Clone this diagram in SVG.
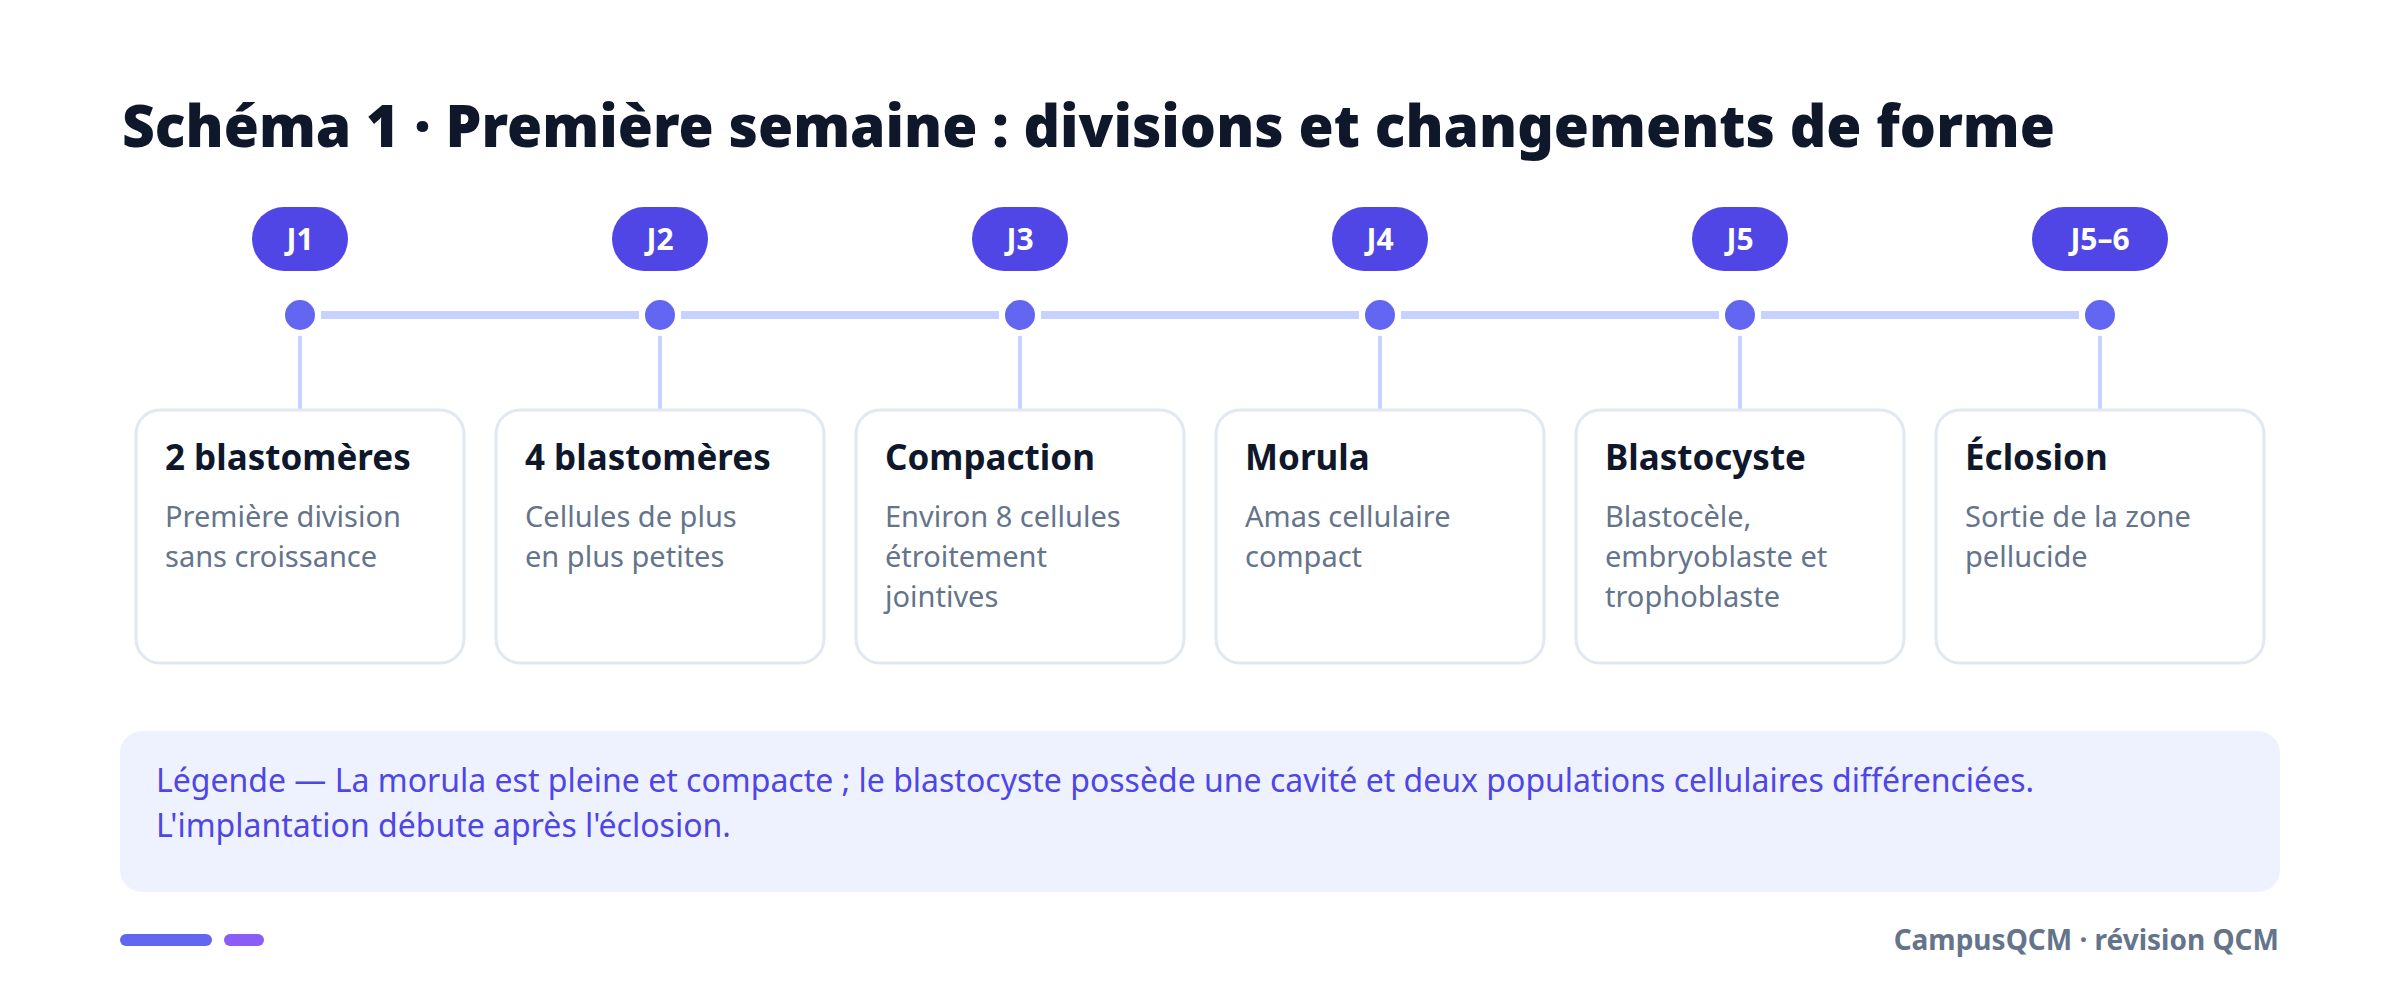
<svg xmlns="http://www.w3.org/2000/svg" width="2400" height="1001" viewBox="0 0 2400 1001">
<style>
text{font-family:"Noto Sans","Open Sans","Liberation Sans",sans-serif}
.title{font-size:58px;font-weight:900;fill:#0F172A}
.pill{fill:#4F46E5}
.pilltxt{font-size:30px;font-weight:700;fill:#FFFFFF;text-anchor:middle}
.dot{fill:#6366F1;stroke:#FFFFFF;stroke-width:6}
.rail{stroke:#C7D2FE;stroke-width:8;fill:none}
.stem{stroke:#C7D2FE;stroke-width:4;fill:none}
.card{fill:#FFFFFF;stroke:#E2E8F0;stroke-width:3}
.ctitle{font-size:35px;font-weight:700;fill:#0F172A}
.cbody{font-size:29px;fill:#64748B}
.legend{fill:#EEF2FF}
.ltxt{font-size:32px;fill:#4F46E5}
.foot{font-size:28px;font-weight:700;fill:#64748B;text-anchor:end}
</style>
<rect width="2400" height="1001" fill="#FFFFFF"/>
<text class="title" x="122" y="147" textLength="1933" lengthAdjust="spacingAndGlyphs">Schéma 1 · Première semaine : divisions et changements de forme</text>

<g id="connectors">
<line class="rail" x1="321" y1="315" x2="639" y2="315"/>
<line class="rail" x1="681" y1="315" x2="999" y2="315"/>
<line class="rail" x1="1041" y1="315" x2="1359" y2="315"/>
<line class="rail" x1="1401" y1="315" x2="1719" y2="315"/>
<line class="rail" x1="1761" y1="315" x2="2079" y2="315"/>
<line class="stem" x1="300" y1="333" x2="300" y2="410"/>
<line class="stem" x1="660" y1="333" x2="660" y2="410"/>
<line class="stem" x1="1020" y1="333" x2="1020" y2="410"/>
<line class="stem" x1="1380" y1="333" x2="1380" y2="410"/>
<line class="stem" x1="1740" y1="333" x2="1740" y2="410"/>
<line class="stem" x1="2100" y1="333" x2="2100" y2="410"/>
</g>

<g id="step-j1">
<rect class="pill" x="252" y="207" width="96" height="64" rx="32"/>
<text class="pilltxt" x="300" y="250">J1</text>
<circle class="dot" cx="300" cy="315" r="18"/>
<rect class="card" x="136" y="410" width="328" height="253" rx="24"/>
<text class="ctitle" x="165" y="470">2 blastomères</text>
<text class="cbody" x="165" y="527">Première division</text>
<text class="cbody" x="165" y="567">sans croissance</text>
</g>

<g id="step-j2">
<rect class="pill" x="612" y="207" width="96" height="64" rx="32"/>
<text class="pilltxt" x="660" y="250">J2</text>
<circle class="dot" cx="660" cy="315" r="18"/>
<rect class="card" x="496" y="410" width="328" height="253" rx="24"/>
<text class="ctitle" x="525" y="470">4 blastomères</text>
<text class="cbody" x="525" y="527">Cellules de plus</text>
<text class="cbody" x="525" y="567">en plus petites</text>
</g>

<g id="step-j3">
<rect class="pill" x="972" y="207" width="96" height="64" rx="32"/>
<text class="pilltxt" x="1020" y="250">J3</text>
<circle class="dot" cx="1020" cy="315" r="18"/>
<rect class="card" x="856" y="410" width="328" height="253" rx="24"/>
<text class="ctitle" x="885" y="470">Compaction</text>
<text class="cbody" x="885" y="527">Environ 8 cellules</text>
<text class="cbody" x="885" y="567">étroitement</text>
<text class="cbody" x="885" y="607">jointives</text>
</g>

<g id="step-j4">
<rect class="pill" x="1332" y="207" width="96" height="64" rx="32"/>
<text class="pilltxt" x="1380" y="250">J4</text>
<circle class="dot" cx="1380" cy="315" r="18"/>
<rect class="card" x="1216" y="410" width="328" height="253" rx="24"/>
<text class="ctitle" x="1245" y="470">Morula</text>
<text class="cbody" x="1245" y="527">Amas cellulaire</text>
<text class="cbody" x="1245" y="567">compact</text>
</g>

<g id="step-j5">
<rect class="pill" x="1692" y="207" width="96" height="64" rx="32"/>
<text class="pilltxt" x="1740" y="250">J5</text>
<circle class="dot" cx="1740" cy="315" r="18"/>
<rect class="card" x="1576" y="410" width="328" height="253" rx="24"/>
<text class="ctitle" x="1605" y="470">Blastocyste</text>
<text class="cbody" x="1605" y="527">Blastocèle,</text>
<text class="cbody" x="1605" y="567">embryoblaste et</text>
<text class="cbody" x="1605" y="607">trophoblaste</text>
</g>

<g id="step-j56">
<rect class="pill" x="2032" y="207" width="136" height="64" rx="32"/>
<text class="pilltxt" x="2100" y="250">J5–6</text>
<circle class="dot" cx="2100" cy="315" r="18"/>
<rect class="card" x="1936" y="410" width="328" height="253" rx="24"/>
<text class="ctitle" x="1965" y="470">Éclosion</text>
<text class="cbody" x="1965" y="527">Sortie de la zone</text>
<text class="cbody" x="1965" y="567">pellucide</text>
</g>

<g id="legend">
<rect class="legend" x="120" y="731" width="2160" height="161" rx="22"/>
<text class="ltxt" x="156" y="792">Légende — La morula est pleine et compacte ; le blastocyste possède une cavité et deux populations cellulaires différenciées.</text>
<text class="ltxt" x="156" y="837">L'implantation débute après l'éclosion.</text>
</g>

<g id="footer">
<rect x="120" y="934" width="92" height="12" rx="6" fill="#6366F1"/>
<rect x="224" y="934" width="40" height="12" rx="6" fill="#8B5CF6"/>
<text class="foot" x="2279" y="950">CampusQCM · révision QCM</text>
</g>
</svg>
